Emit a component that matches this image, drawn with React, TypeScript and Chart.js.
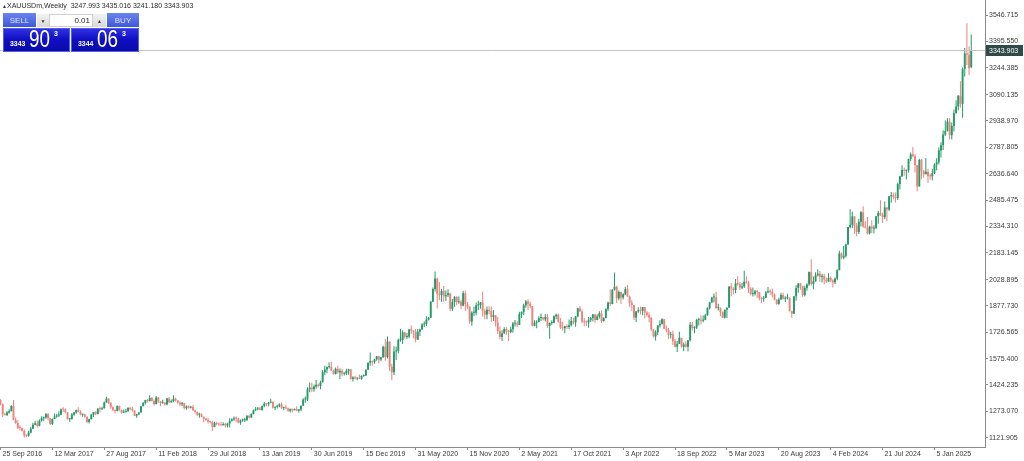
import React, { useEffect, useRef } from "react";
import { Chart, registerables } from "chart.js";
Chart.register(...registerables);

const symbolTitle = "XAUUSDm,Weekly";

// Weekly OHLC, first bar = week of 25 Sep 2016, last bar = week of 4 May 2025
const opens = [
  1338,1315,1257,1251,1266,1275,1304,1225,1206,1178,1177,1161,1134,1133,
  1151,1173,1196,1204,1190,1220,1234,1238,1257,1234,1201,1229,1243,1249,1254,1285,1284,1268,1228,1228,1254,1266,1280,1271,1254,1256,1242,1212,1228,1254,1269,1258,1289,1285,1291,1325,1346,1320,1297,1280,1275,1304,1280,1266,1269,1274,1293,1287,1279,1248,1256,1266,
  1303,1321,1338,1332,1350,1333,1315,1353,1330,1322,1323,1313,1347,1325,1332,1345,1336,1323,1314,1320,1291,1302,1294,1298,1279,1270,1254,1255,1241,1231,1223,1214,1212,1184,1206,1201,1197,1193,1200,1192,1203,1218,1227,1233,1232,1209,1221,1222,1222,1248,1238,1257,
  1280,1285,1288,1281,1303,1317,1314,1322,1328,1294,1299,1303,1313,1292,1292,1290,1276,1286,1279,1286,1277,1284,1305,1341,1341,1400,1409,1400,1415,1426,1419,1440,1497,1513,1527,1529,1507,1488,1517,1497,1505,1489,1490,1505,1514,1459,1468,1462,1464,1460,1476,1478,
  1511,1552,1562,1557,1571,1589,1570,1584,1644,1585,1673,1529,1498,1617,1620,1683,1683,1727,1700,1702,1743,1735,1730,1685,1730,1743,1771,1774,1799,1810,1902,1975,2035,1945,1940,1964,1933,1940,1950,1861,1900,1930,1899,1902,1879,1951,1889,1872,1788,1839,1839,1881,1883,
  1898,1849,1828,1856,1848,1814,1824,1784,1734,1700,1720,1745,1732,1728,1744,1777,1777,1769,1832,1844,1881,1903,1891,1877,1764,1781,1787,1808,1812,1801,1814,1763,1780,1781,1818,1827,1788,1754,1750,1761,1757,1768,1792,1783,1818,1864,1846,1788,1784,1783,1798,1809,
  1829,1797,1818,1835,1791,1808,1859,1898,1889,1970,1988,1921,1958,1926,1945,1974,1931,1896,1883,1811,1846,1853,1850,1871,1840,1826,1811,1742,1703,1727,1766,1775,1802,1747,1738,1712,1716,1675,1644,1660,1695,1644,1657,1644,1681,1770,1751,1754,1797,1797,1793,1798,
  1824,1865,1898,1926,1928,1865,1865,1842,1811,1856,1868,1989,1978,1969,2008,2003,1983,1990,2017,2011,1977,1946,1948,1961,1958,1921,1919,1925,1955,1962,1959,1943,1914,1889,1915,1940,1919,1924,1925,1848,1833,1933,1981,2006,1992,1940,1981,2001,2072,2004,2019,2053,
  2063,2045,2049,2029,2018,2039,2024,2013,2035,2083,2179,2155,2165,2230,2330,2344,2392,2338,2302,2361,2415,2334,2327,2294,2333,2322,2326,2392,2411,2400,2387,2443,2431,2507,2512,2503,2497,2577,2622,2658,2653,2657,2721,2747,2736,2685,2563,2716,2650,2633,2648,2622,2621,
  2640,2690,2702,2770,2800,2861,2882,2935,2857,2910,2984,3022,3084,3037,3237,3327,3319,3247.993,
];
const highs = [
  1343,1318,1263,1275,1285,1308,1338,1238,1222,1192,1180,1169,1140,1162,
  1184,1207,1219,1220,1226,1245,1244,1264,1264,1236,1232,1261,1259,1273,1290,1296,1289,1268,1236,1263,1270,1283,1296,1280,1260,1259,1243,1231,1259,1270,1274,1291,1301,1300,1330,1357,1350,1327,1301,1283,1306,1306,1284,1284,1288,1297,1299,1299,1280,1260,1269,1305,
  1326,1339,1344,1366,1355,1341,1361,1356,1332,1340,1326,1349,1356,1341,1366,1353,1336,1329,1326,1322,1307,1308,1304,1310,1283,1272,1265,1262,1245,1235,1236,1219,1219,1214,1214,1207,1213,1211,1206,1208,1233,1233,1243,1243,1237,1226,1230,1236,1251,1250,1262,1283,
  1298,1298,1298,1306,1326,1320,1326,1346,1330,1300,1311,1320,1325,1300,1311,1295,1289,1290,1289,1303,1287,1306,1348,1358,1411,1439,1437,1427,1453,1433,1449,1510,1535,1531,1555,1557,1511,1525,1535,1519,1517,1498,1518,1518,1516,1474,1477,1466,1485,1480,1484,1515,
  1553,1611,1564,1575,1591,1592,1585,1649,1689,1703,1675,1546,1647,1645,1690,1747,1738,1730,1723,1745,1765,1740,1745,1745,1747,1779,1789,1818,1815,1906,1984,2075,2040,2015,1977,1992,1966,1973,1951,1917,1933,1933,1932,1915,1965,1966,1900,1876,1848,1875,1897,1907,1901,
  1959,1863,1875,1876,1875,1855,1826,1815,1760,1739,1755,1755,1740,1758,1785,1797,1790,1844,1846,1890,1912,1916,1903,1877,1795,1795,1818,1834,1815,1832,1832,1783,1795,1823,1834,1834,1809,1787,1764,1772,1800,1814,1810,1818,1868,1877,1858,1808,1793,1815,1814,1831,
  1831,1830,1848,1853,1813,1865,1902,1974,1974,2070,1993,1966,1960,1950,1988,1998,1937,1910,1883,1849,1870,1874,1872,1857,1847,1841,1813,1745,1739,1767,1795,1807,1802,1765,1751,1729,1735,1688,1676,1730,1692,1668,1675,1683,1786,1787,1761,1804,1810,1825,1823,1833,
  1870,1900,1931,1949,1959,1890,1870,1846,1858,1869,1990,2010,1985,2032,2048,2015,2009,2079,2048,2022,1985,1983,1970,1971,1937,1930,1935,1964,1987,1974,1978,1948,1916,1925,1953,1953,1933,1947,1926,1850,1933,1997,2009,2010,1993,1993,2008,2076,2146,2047,2071,2088,
  2078,2063,2062,2041,2065,2046,2031,2041,2088,2195,2185,2222,2236,2331,2432,2418,2354,2353,2378,2422,2450,2364,2388,2338,2369,2340,2393,2424,2484,2412,2477,2439,2509,2531,2528,2529,2586,2625,2685,2672,2660,2722,2758,2790,2750,2686,2722,2721,2657,2726,2665,2638,2665,
  2697,2725,2786,2817,2886,2942,2955,2956,2930,3004,3057,3086,3167,3245,3358,3500,3367,3435.016,
];
const lows = [
  1308,1241,1250,1248,1260,1272,1222,1202,1171,1163,1158,1123,1124,1127,
  1146,1172,1194,1180,1188,1215,1216,1231,1222,1195,1195,1229,1237,1240,1253,1270,1262,1226,1214,1227,1248,1259,1268,1250,1242,1236,1205,1204,1226,1241,1250,1255,1267,1281,1289,1323,1315,1288,1275,1261,1274,1276,1260,1264,1267,1271,1280,1271,1245,1236,1252,1266,
  1302,1312,1324,1329,1330,1307,1312,1321,1303,1316,1307,1308,1321,1322,1325,1330,1316,1302,1304,1285,1282,1288,1290,1276,1261,1246,1237,1239,1211,1217,1204,1204,1160,1182,1194,1190,1191,1194,1180,1181,1181,1215,1219,1211,1204,1196,1213,1212,1221,1232,1235,1256,
  1275,1279,1280,1276,1297,1302,1302,1320,1290,1281,1290,1297,1287,1280,1285,1270,1266,1266,1281,1274,1265,1273,1305,1322,1333,1382,1382,1386,1403,1411,1400,1438,1480,1492,1519,1506,1485,1484,1490,1459,1474,1479,1482,1483,1456,1445,1456,1452,1458,1455,1471,1477,
  1513,1535,1536,1546,1563,1548,1560,1579,1563,1576,1504,1451,1482,1567,1606,1673,1660,1689,1688,1692,1717,1693,1670,1683,1705,1741,1757,1763,1794,1807,1899,1961,1863,1911,1902,1902,1906,1929,1848,1848,1873,1882,1890,1860,1876,1850,1859,1775,1764,1820,1825,1855,1862,
  1817,1803,1802,1830,1785,1792,1760,1717,1687,1677,1719,1712,1677,1721,1724,1760,1756,1768,1808,1825,1868,1855,1866,1761,1761,1750,1784,1792,1794,1789,1753,1690,1770,1778,1802,1782,1745,1737,1721,1746,1746,1760,1772,1759,1813,1844,1778,1761,1762,1753,1785,1789,
  1782,1796,1805,1780,1788,1807,1849,1878,1888,1967,1895,1910,1889,1915,1940,1930,1872,1850,1797,1786,1838,1828,1825,1805,1816,1784,1732,1696,1680,1711,1754,1771,1745,1727,1688,1691,1654,1639,1614,1660,1640,1618,1638,1616,1674,1737,1721,1745,1766,1773,1784,1795,
  1822,1858,1896,1897,1861,1852,1819,1808,1805,1809,1868,1934,1945,1950,1993,1969,1974,1980,2006,1952,1937,1932,1938,1925,1910,1893,1902,1922,1951,1942,1928,1910,1885,1884,1913,1914,1901,1914,1846,1810,1834,1908,1953,1970,1931,1932,1965,1993,1995,1973,2016,2047,
  2017,2013,2002,2010,2016,2014,1984,2004,2025,2083,2146,2146,2155,2229,2324,2324,2291,2277,2291,2333,2326,2322,2286,2287,2296,2293,2319,2349,2394,2353,2377,2364,2422,2470,2490,2471,2485,2546,2618,2625,2603,2643,2709,2731,2643,2536,2564,2605,2613,2636,2583,2602,2597,
  2635,2656,2689,2730,2772,2853,2878,2832,2833,2880,2982,3000,3015,2957,3194,3260,3202,3241.180,
];
const closes = [
  1315,1257,1251,1266,1275,1304,1225,1206,1178,1177,1161,1134,1133,1151,
  1173,1196,1204,1190,1220,1234,1238,1257,1234,1201,1229,1243,1249,1254,1285,1284,1268,1228,1228,1254,1266,1280,1271,1254,1256,1242,1212,1228,1254,1269,1258,1289,1285,1291,1325,1346,1320,1297,1280,1275,1304,1280,1266,1269,1274,1293,1287,1279,1248,1256,1266,1303,
  1321,1338,1332,1350,1333,1315,1353,1330,1322,1323,1313,1347,1325,1332,1345,1336,1323,1314,1320,1291,1302,1294,1298,1279,1270,1254,1255,1241,1231,1223,1214,1212,1184,1206,1201,1197,1193,1200,1192,1203,1218,1227,1233,1232,1209,1221,1222,1222,1248,1238,1257,1280,
  1285,1288,1281,1303,1317,1314,1322,1328,1294,1299,1303,1313,1292,1292,1290,1276,1286,1279,1286,1277,1284,1305,1341,1341,1400,1409,1400,1415,1426,1419,1440,1497,1513,1527,1529,1507,1488,1517,1497,1505,1489,1490,1505,1514,1459,1468,1462,1464,1460,1476,1478,1511,
  1552,1562,1557,1571,1589,1570,1584,1644,1585,1673,1529,1498,1617,1620,1683,1683,1727,1700,1702,1743,1735,1730,1685,1730,1743,1771,1774,1799,1810,1902,1975,2035,1945,1940,1964,1933,1940,1950,1861,1900,1930,1899,1902,1879,1951,1889,1872,1788,1839,1839,1881,1883,1898,
  1849,1828,1856,1848,1814,1824,1784,1734,1700,1720,1745,1732,1728,1744,1777,1777,1769,1832,1844,1881,1903,1891,1877,1764,1781,1787,1808,1812,1801,1814,1763,1780,1781,1818,1827,1788,1754,1750,1761,1757,1768,1792,1783,1818,1864,1846,1788,1784,1783,1798,1809,1829,
  1797,1818,1835,1791,1808,1859,1898,1889,1970,1988,1921,1958,1926,1945,1974,1931,1896,1883,1811,1846,1853,1850,1871,1840,1826,1811,1742,1703,1727,1766,1775,1802,1747,1738,1712,1716,1675,1644,1660,1695,1644,1657,1644,1681,1770,1751,1754,1797,1797,1793,1798,1824,
  1865,1898,1926,1928,1865,1865,1842,1811,1856,1868,1989,1978,1969,2008,2003,1983,1990,2017,2011,1977,1946,1948,1961,1958,1921,1919,1925,1955,1962,1959,1943,1914,1889,1915,1940,1919,1924,1925,1848,1833,1933,1981,2006,1992,1940,1981,2001,2072,2004,2019,2053,2063,
  2045,2049,2029,2018,2039,2024,2013,2035,2083,2179,2155,2165,2230,2330,2344,2392,2338,2302,2361,2415,2334,2327,2294,2333,2322,2326,2392,2411,2400,2387,2443,2431,2507,2512,2503,2497,2577,2622,2658,2653,2657,2721,2747,2736,2685,2563,2716,2650,2633,2648,2622,2621,2640,
  2690,2702,2770,2800,2861,2882,2935,2857,2910,2984,3022,3084,3037,3237,3327,3319,3241,3343.903,
];

const dateLabels = [
  "25 Sep 2016", "12 Mar 2017", "27 Aug 2017", "11 Feb 2018", "29 Jul 2018",
  "13 Jan 2019", "30 Jun 2019", "15 Dec 2019", "31 May 2020", "15 Nov 2020",
  "2 May 2021", "17 Oct 2021", "3 Apr 2022", "18 Sep 2022", "5 Mar 2023",
  "20 Aug 2023", "4 Feb 2024", "21 Jul 2024", "5 Jan 2025",
];
const dateLabelBars = [0, 24, 48, 72, 96, 120, 144, 168, 192, 216, 240, 264, 288, 312, 336, 360, 384, 408, 432];

const priceTicks = [
  1121.905, 1273.07, 1424.235, 1575.4, 1726.565, 1877.73, 2028.895, 2183.145,
  2334.31, 2485.475, 2636.64, 2787.805, 2938.97, 3090.135, 3244.385, 3395.55, 3546.715,
];

const askPrice = 3344.063;
const lotSize = "0.01";

const BULL = "#249a68";
const BEAR = "#ec837c";
const FONT = "'Liberation Sans', Arial, sans-serif";

function splitPrice(p: number) {
  const s = p.toFixed(3);
  const dot = s.indexOf(".");
  return { head: s.slice(0, dot), big: s.slice(dot + 1, dot + 3), sup: s.slice(dot + 3) };
}

export default function App() {
  const ref = useRef<HTMLCanvasElement>(null);

  useEffect(() => {
    document.body.style.margin = "0";
    const n = closes.length;
    const bodies = closes.map((c, i) => ({ x: i, y: [opens[i], c] }));
    const wicks = closes.map((c, i) => ({
      x: i,
      y: [Math.min(lows[i], opens[i], c), Math.max(highs[i], opens[i], c)],
    }));
    const colors = closes.map((c, i) => (c >= opens[i] ? BULL : BEAR));

    const lastPrice = {
      id: "lastPrice",
      afterDatasetsDraw(chart: any) {
        const { ctx, chartArea, scales } = chart;
        const v = closes[n - 1];
        const y = Math.round(scales.y.getPixelForValue(v)) + 0.5;
        ctx.save();
        ctx.strokeStyle = "#c4c4c4";
        ctx.lineWidth = 1;
        ctx.beginPath();
        ctx.moveTo(chartArea.left, y);
        ctx.lineTo(chartArea.right, y);
        ctx.stroke();
        ctx.fillStyle = "#2f4a4a";
        ctx.fillRect(chartArea.right + 1, y - 5.5, 37, 11);
        ctx.fillStyle = "#ffffff";
        ctx.font = `7px ${FONT}`;
        ctx.textBaseline = "middle";
        ctx.textAlign = "left";
        ctx.fillText(v.toFixed(3), chartArea.right + 4, y + 0.5);
        ctx.restore();
      },
    };

    const chart = new Chart(ref.current as HTMLCanvasElement, {
      type: "bar",
      data: {
        datasets: [
          {
            data: wicks as any,
            backgroundColor: colors,
            barThickness: 1,
            grouped: false,
            borderWidth: 0,
            inflateAmount: 0,
            order: 2,
          } as any,
          {
            data: bodies as any,
            backgroundColor: colors,
            barThickness: 1.9,
            grouped: false,
            borderWidth: 0,
            inflateAmount: 0,
            minBarLength: 1,
            order: 1,
          } as any,
        ],
      },
      options: {
        responsive: false,
        animation: false,
        devicePixelRatio: 1,
        layout: { padding: 0 },
        plugins: { legend: { display: false }, tooltip: { enabled: false } },
        scales: {
          x: {
            type: "linear",
            position: "bottom",
            offset: false,
            min: -0.231,
            max: 455.37,
            grid: { drawOnChartArea: false, drawTicks: true, tickLength: 3, color: "#8a8a8a", offset: false },
            border: { color: "#8a8a8a" },
            ticks: {
              autoSkip: false,
              maxRotation: 0,
              minRotation: 0,
              align: "start",
              labelOffset: 2,
              padding: 0,
              color: "#3a3a3a",
              font: { family: FONT, size: 7 },
              callback: (v: any) => {
                const k = dateLabelBars.indexOf(Number(v));
                return k >= 0 ? dateLabels[k] : "";
              },
            },
            afterBuildTicks: (s: any) => {
              s.ticks = dateLabelBars.map((v) => ({ value: v }));
            },
            afterFit: (s: any) => {
              s.height = 14;
              s.paddingLeft = 0;
              s.paddingRight = 0;
            },
          } as any,
          y: {
            type: "linear",
            position: "right",
            min: 1068.55,
            max: 3632.8,
            grid: { drawOnChartArea: false, drawTicks: true, tickLength: 3, color: "#8a8a8a" },
            border: { color: "#8a8a8a" },
            ticks: {
              autoSkip: false,
              padding: 1,
              color: "#3a3a3a",
              font: { family: FONT, size: 7 },
              callback: (v: any) => Number(v).toFixed(3),
            },
            afterBuildTicks: (s: any) => {
              s.ticks = priceTicks.map((v) => ({ value: v }));
            },
            afterFit: (s: any) => {
              s.width = 39;
              s.paddingTop = 0;
              s.paddingBottom = 0;
            },
          } as any,
        },
      },
      plugins: [lastPrice],
    });
    return () => chart.destroy();
  }, []);

  const last = closes.length - 1;
  const bid = splitPrice(closes[last]);
  const ask = splitPrice(askPrice);
  const header = `${symbolTitle}  ${opens[last].toFixed(3)} ${highs[last].toFixed(3)} ${lows[last].toFixed(3)} ${closes[last].toFixed(3)}`;

  const abs = (o: any): React.CSSProperties => ({ position: "absolute", ...o });
  const btn: React.CSSProperties = {
    position: "absolute",
    top: 13,
    height: 14,
    background: "linear-gradient(#6a84f0, #3d58da)",
    color: "#dfe5ff",
    font: `8px ${FONT}`,
    display: "flex",
    alignItems: "center",
    justifyContent: "center",
  };
  const bigBox: React.CSSProperties = {
    position: "absolute",
    top: 28,
    height: 24,
    background: "linear-gradient(#3434e6, #1010c4 45%, #0a0aa8)",
    boxShadow: "inset 0 0 0 1px #5060e8",
    color: "#ffffff",
    fontFamily: FONT,
  };

  const priceBox = (left: number, width: number, p: { head: string; big: string; sup: string }) => (
    <div style={{ ...bigBox, left, width }}>
      <span style={abs({ left: 7, top: 11, fontSize: 7.5, fontWeight: "bold", transform: "scaleX(0.92)", transformOrigin: "left" })}>{p.head}</span>
      <span style={abs({ left: 26, top: -2, fontSize: 23, transform: "scaleX(0.82)", transformOrigin: "left", lineHeight: "26px" })}>{p.big}</span>
      <span style={abs({ left: 51, top: 2, fontSize: 7, fontWeight: "bold" })}>{p.sup}</span>
    </div>
  );

  return (
    <div style={{ position: "relative", width: 1024, height: 461, overflow: "hidden", background: "#fff" }}>
      <canvas ref={ref} width={1024} height={461} style={{ position: "absolute", left: 0, top: 0, width: 1024, height: 461 }} />
      <div style={abs({ left: 2, top: 1, font: `5px ${FONT}`, color: "#333", lineHeight: "10px" })}>▲</div>
      <div style={abs({ left: 7, top: 1, font: `7px ${FONT}`, color: "#2a2a2a", whiteSpace: "pre", lineHeight: "10px" })}>{header}</div>
      <div style={{ ...btn, left: 3, width: 33 }}>SELL</div>
      <div style={abs({ left: 37, top: 14, width: 12, height: 13, background: "linear-gradient(#f2f2f2,#d8d8d8)", color: "#333", font: `5px ${FONT}`, display: "flex", alignItems: "center", justifyContent: "center" })}>▼</div>
      <div style={abs({ left: 49, top: 14, width: 41, height: 13, background: "#fff", color: "#222", font: `8px ${FONT}`, display: "flex", alignItems: "center", justifyContent: "flex-end", paddingRight: 3, boxShadow: "inset 0 0 0 1px #d0d0d0" })}>{lotSize}</div>
      <div style={abs({ left: 93, top: 14, width: 13, height: 13, background: "linear-gradient(#f2f2f2,#d8d8d8)", color: "#333", font: `5px ${FONT}`, display: "flex", alignItems: "center", justifyContent: "center" })}>▲</div>
      <div style={{ ...btn, left: 107, width: 32 }}>BUY</div>
      {priceBox(3, 67, bid)}
      {priceBox(71, 68, ask)}
    </div>
  );
}
